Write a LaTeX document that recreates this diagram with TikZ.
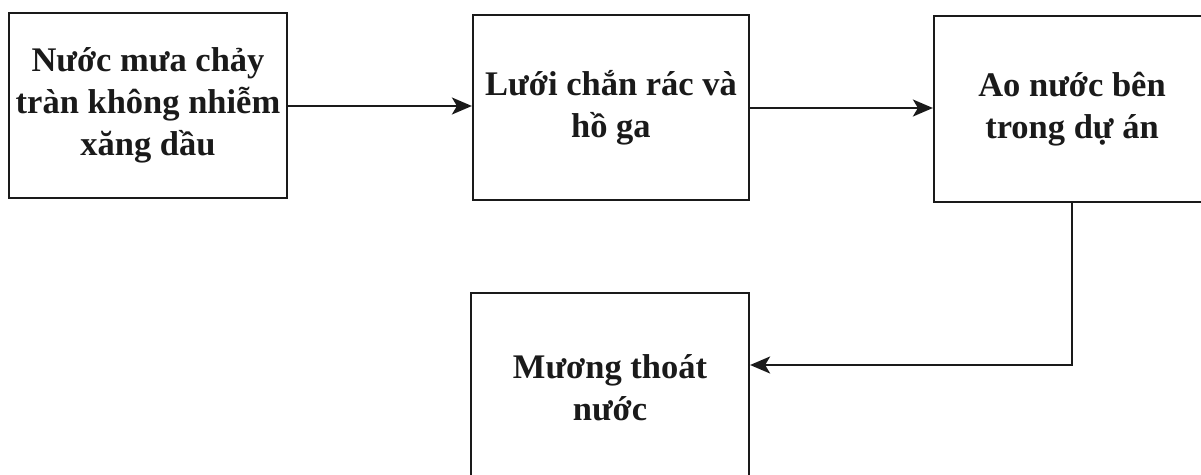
\documentclass[tikz,border=0pt]{standalone}
\usepackage{fontspec}
\setmainfont{Liberation Serif}
\usetikzlibrary{arrows.meta}
\definecolor{ink}{HTML}{1A1A1A}
\begin{document}
\begin{tikzpicture}[x=1pt,y=-1pt,
  boxnode/.style={draw=ink,line width=2.2pt,rectangle,inner sep=0pt,
    align=center,text=ink,font=\bfseries\fontsize{34.5}{42}\selectfont},
  flow/.style={draw=ink,line width=2.2pt,-{Stealth[length=20pt,width=17pt,inset=5pt]}}]
\useasboundingbox (0,0) rectangle (1201,474);
\clip (0,0) rectangle (1201,474);
\fill[white] (0,0) rectangle (1201,474);
\node[boxnode,minimum width=278pt,minimum height=185pt] (b1) at (148,105.5) {Nước mưa chảy\\tràn không nhiễm\\xăng dầu};
\node[boxnode,minimum width=276pt,minimum height=185pt] (b2) at (611,107.5) {Lưới chắn rác và\\hồ ga};
\node[boxnode,minimum width=276pt,minimum height=186pt] (b3) at (1072,109) {Ao nước bên\\trong dự án};
\node[boxnode,minimum width=278pt,minimum height=190pt] (b4) at (610,388) {Mương thoát\\nước};
\draw[flow] (b1.east |- 0,106) -- (b2.west |- 0,106);
\draw[flow] (b2.east |- 0,108) -- (b3.west |- 0,108);
\draw[flow] (b3.south) |- ([yshift=23pt]b4.east);
\end{tikzpicture}
\end{document}
